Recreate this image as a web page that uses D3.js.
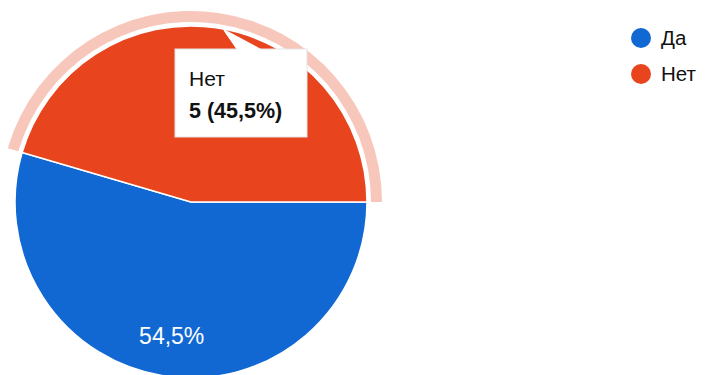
<!DOCTYPE html>
<html>
<head>
<meta charset="utf-8">
<script src="https://cdn.jsdelivr.net/npm/d3@7/dist/d3.min.js"></script>
<style>
  html, body { margin: 0; padding: 0; background: #ffffff; }
  svg { display: block; font-family: "Liberation Sans", Arial, sans-serif; }
</style>
</head>
<body>
<svg id="chart" width="707" height="375"></svg>
<script>
// Survey answers
const categories = ["Да", "Нет"];
const counts = [6, 5];
const colors = ["#1168d3", "#e8451f"];
const highlighted = 1; // slice shown with hover ring and tooltip

const width = 707, height = 375;
const cx = 191, cy = 202, radius = 176;

const svg = d3.select("#chart");
const total = d3.sum(counts);
const fmtPct = v => (Math.round(v * 1000) / 10).toFixed(1).replace(".", ",") + "%";

const pie = d3.pie()
  .sort(null)
  .startAngle(Math.PI / 2)
  .endAngle(Math.PI / 2 + 2 * Math.PI);

const arcs = pie(counts);
const arc = d3.arc().innerRadius(0).outerRadius(radius);
const ringArc = d3.arc().innerRadius(radius + 4).outerRadius(radius + 15);
const labelArc = d3.arc().innerRadius(radius * 0.77).outerRadius(radius * 0.77);

const g = svg.append("g").attr("transform", `translate(${cx},${cy})`);

// hover ring around the highlighted slice
g.append("path")
  .attr("d", ringArc(arcs[highlighted]))
  .attr("fill", colors[highlighted])
  .attr("fill-opacity", 0.3);

// slices
g.selectAll("path.slice")
  .data(arcs)
  .join("path")
  .attr("class", "slice")
  .attr("d", arc)
  .attr("fill", (d, i) => colors[i])
  .attr("stroke", "#ffffff")
  .attr("stroke-width", 1.5);

// percentage labels (only where the slice is not covered by the tooltip)
g.selectAll("text.pct")
  .data(arcs.filter((d, i) => i !== highlighted))
  .join("text")
  .attr("class", "pct")
  .attr("transform", d => `translate(${labelArc.centroid(d)})`)
  .attr("text-anchor", "middle")
  .attr("dy", "0.35em")
  .attr("fill", "#ffffff")
  .attr("font-size", 23)
  .text(d => fmtPct(d.value / total));

// tooltip
const tip = svg.append("g");
tip.append("path")
  .attr("d", "M222,28 L237,50 L263,50 Z")
  .attr("fill", "#ffffff");
tip.append("rect")
  .attr("x", 175).attr("y", 49)
  .attr("width", 132).attr("height", 88)
  .attr("fill", "#ffffff")
  .attr("stroke", "#e4e4e4")
  .attr("stroke-width", 1);
tip.append("path")
  .attr("d", "M224,31 L238,50.5 L262,50.5")
  .attr("fill", "#ffffff");
tip.append("text")
  .attr("x", 189).attr("y", 86)
  .attr("font-size", 21)
  .attr("fill", "#111111")
  .text(categories[highlighted]);
tip.append("text")
  .attr("x", 189).attr("y", 118)
  .attr("font-size", 21.5)
  .attr("font-weight", "bold")
  .attr("fill", "#111111")
  .text(`${counts[highlighted]} (${fmtPct(counts[highlighted] / total)})`);

// legend
const legend = svg.append("g");
const items = legend.selectAll("g")
  .data(categories)
  .join("g")
  .attr("transform", (d, i) => `translate(641,${38 + i * 36})`);
items.append("circle")
  .attr("r", 10)
  .attr("fill", (d, i) => colors[i]);
items.append("text")
  .attr("x", 20)
  .attr("dy", "0.36em")
  .attr("font-size", 20.5)
  .attr("fill", "#111111")
  .text(d => d);
</script>
</body>
</html>
